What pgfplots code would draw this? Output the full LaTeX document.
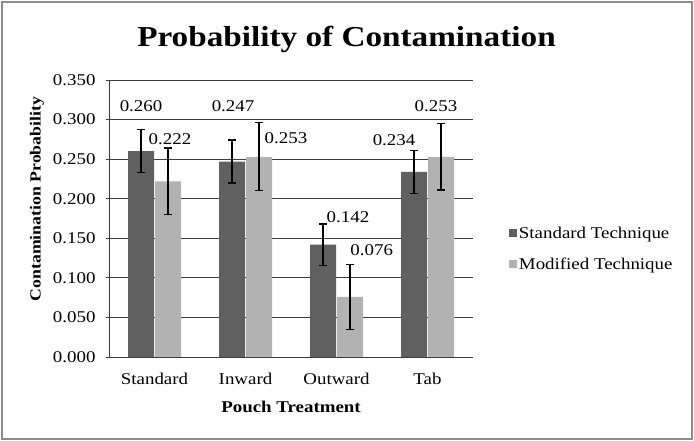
\documentclass[border=0pt]{standalone}
\usepackage{fontspec}
\setmainfont{Liberation Serif}[FakeStretch=1.15]
\usepackage{pgfplots}
\pgfplotsset{compat=1.18}
\definecolor{darkbar}{RGB}{96,96,96}
\definecolor{lightbar}{RGB}{178,178,178}
\definecolor{gridc}{RGB}{60,60,60}
\definecolor{framec}{RGB}{140,140,140}
\pgfplotstableread{
x y e
0 0.260 0.027
1 0.247 0.027
2 0.142 0.026
3 0.234 0.027
}\stdtab
\pgfplotstableread{
x y e
0 0.222 0.042
1 0.253 0.043
2 0.076 0.041
3 0.253 0.042
}\modtab
\begin{document}
\begin{tikzpicture}[x=1bp,y=1bp]
\path[use as bounding box] (0,0) rectangle (694,441);
\draw[framec, line width=2bp] (2,2) rectangle (692,439);
\begin{axis}[
  at={(109bp,84bp)}, anchor=south west,
  scale only axis, width=364bp, height=277bp,
  ymin=0, ymax=0.35, xmin=-0.5, xmax=3.5,
  ytick={0,0.05,0.1,0.15,0.2,0.25,0.3,0.35},
  xtick={0,1,2,3}, xticklabels={Standard,Inward,Outward,Tab},
  axis x line*=bottom, axis y line*=left,
  axis line style={gridc, line width=0.8bp},
  ymajorgrids, major grid style={gridc, line width=0.8bp},
  tick align=outside, major tick length=3bp,
  xtick style={draw=none}, ytick style={gridc, line width=0.8bp},
  ticklabel style={font=\fontsize{16.5}{18}\selectfont},
  y tick label style={xshift=-7bp, /pgf/number format/.cd, fixed, fixed zerofill, precision=3, assume math mode=true},
  x tick label style={yshift=-10bp},
  ybar=1bp, bar width=26bp,
  legend style={at={(rel axis cs:1.09,0.485)}, anchor=north west, draw=none, fill=none,
    font=\fontsize{16.5}{18}\selectfont, row sep=14bp,
    /tikz/every even column/.append style={column sep=3bp}},
  legend image code/.code={\fill[#1] (0bp,-4bp) rectangle (8bp,4bp);},
  legend cell align=left,
  clip=false,
]
\addplot[fill=darkbar, draw=none,
  error bars/.cd, y dir=both, y explicit,
  error bar style={black, line width=1.3bp},
  error mark options={rotate=90, mark size=4bp, black, line width=1.3bp}]
  table[x=x, y=y, y error=e]{\stdtab};
\addplot[fill=lightbar, draw=none,
  error bars/.cd, y dir=both, y explicit,
  error bar style={black, line width=1.3bp},
  error mark options={rotate=90, mark size=4bp, black, line width=1.3bp}]
  table[x=x, y=y, y error=e]{\modtab};
\legend{Standard Technique, Modified Technique}
\begin{scope}[every node/.style={font=\fontsize{16.5}{18}\selectfont, inner sep=0pt}]
\node at (axis cs:-0.148,0.317) {0.260};
\node at (axis cs:0.170,0.275) {0.222};
\node at (axis cs:0.863,0.317) {0.247};
\node at (axis cs:1.445,0.276) {0.253};
\node at (axis cs:2.126,0.177) {0.142};
\node at (axis cs:2.387,0.135) {0.076};
\node at (axis cs:2.632,0.274) {0.234};
\node at (axis cs:3.093,0.317) {0.253};
\end{scope}
\end{axis}
\node[anchor=base, font=\fontsize{29}{32}\selectfont\bfseries] at (346.5,394) {Probability of Contamination};
\node[rotate=90, font=\fontsize{15.5}{17}\selectfont\bfseries] at (37,242) {Contamination Probability};
\node[font=\fontsize{16.5}{18}\selectfont\bfseries] at (291,34) {Pouch Treatment};
\end{tikzpicture}
\end{document}
